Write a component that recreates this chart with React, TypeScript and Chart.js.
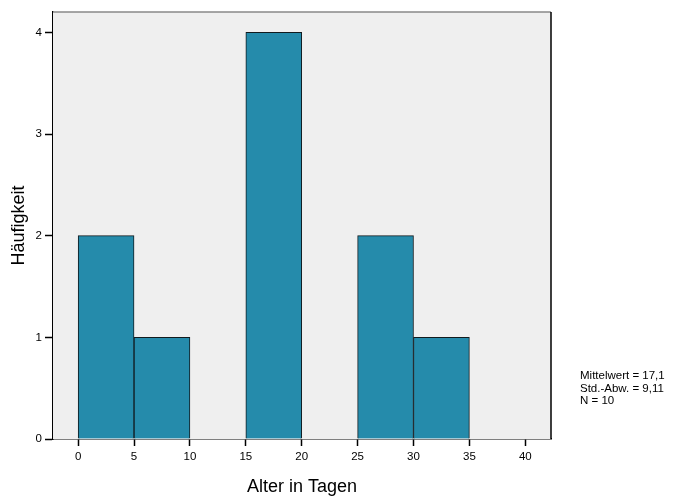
import React, { useEffect, useRef } from "react";
import { Chart, registerables } from "chart.js";

Chart.register(...registerables);

const binStarts = [0, 5, 15, 25, 30];
const binWidth = 5;
const counts = [2, 1, 4, 2, 1];
const xTickValues = [0, 5, 10, 15, 20, 25, 30, 35, 40];
const yTickValues = [0, 1, 2, 3, 4];
const xTitle = "Alter in Tagen";
const yTitle = "Häufigkeit";
const statsLines = ["Mittelwert = 17,1", "Std.-Abw. = 9,11", "N = 10"];

const FONT = "'Liberation Sans', Arial, sans-serif";

const frame = {
  id: "frame",
  beforeDatasetsDraw(chart: any) {
    const { ctx, chartArea: a } = chart;
    ctx.save();
    ctx.fillStyle = "#EFEFEF";
    ctx.fillRect(a.left, a.top, a.right - a.left, a.bottom - a.top);
    ctx.restore();
  },
  afterDraw(chart: any) {
    const { ctx, chartArea: a } = chart;
    ctx.save();
    ctx.lineWidth = 1.5;
    ctx.strokeStyle = "#888888";
    ctx.beginPath();
    ctx.moveTo(a.left, a.top);
    ctx.lineTo(a.right, a.top);
    ctx.stroke();
    ctx.strokeStyle = "#000000";
    ctx.beginPath();
    ctx.moveTo(a.right, a.top);
    ctx.lineTo(a.right, a.bottom);
    ctx.stroke();
    ctx.fillStyle = "#000";
    ctx.font = `11.5px ${FONT}`;
    ctx.textAlign = "left";
    ctx.textBaseline = "alphabetic";
    statsLines.forEach((t, i) => ctx.fillText(t, 580, 379 + i * 12.6));
    ctx.restore();
  },
};

export default function App() {
  const ref = useRef<HTMLCanvasElement | null>(null);
  useEffect(() => {
    if (!ref.current) return;
    const data = binStarts.map((s, i) => ({ x: s + binWidth / 2, y: counts[i] }));
    const chart = new Chart(ref.current, {
      type: "bar",
      data: {
        datasets: [
          {
            data: data as any,
            backgroundColor: "rgb(37,139,171)",
            borderColor: "#111a1e",
            borderWidth: 1,
            barPercentage: 1,
            categoryPercentage: 1,
          },
        ],
      },
      options: {
        animation: false,
        responsive: false,
        maintainAspectRatio: false,
        layout: { padding: { top: 12, right: 132, left: 0, bottom: 0 } },
        plugins: { legend: { display: false }, tooltip: { enabled: false } },
        scales: {
          x: {
            type: "linear",
            offset: false,
            min: -2.25,
            max: 42.3,
            afterBuildTicks: (s: any) => {
              s.ticks = xTickValues.map((v) => ({ value: v }));
            },
            afterFit: (s: any) => {
              s.height = 61;
            },
            grid: {
              offset: false,
              drawOnChartArea: false,
              drawTicks: true,
              tickLength: 7,
              tickColor: "#000",
              tickWidth: 1.5,
            },
            border: { display: true, color: "#000", width: 1.5 },
            ticks: {
              color: "#000",
              font: { family: FONT, size: 11.5 },
              padding: 4,
              maxRotation: 0,
            },
            title: {
              display: true,
              text: xTitle,
              color: "#000",
              font: { family: FONT, size: 18 },
              padding: { top: 0, bottom: 2 },
            },
          },
          y: {
            type: "linear",
            min: 0,
            max: 4.2,
            afterBuildTicks: (s: any) => {
              s.ticks = yTickValues.map((v) => ({ value: v }));
            },
            afterFit: (s: any) => {
              s.width = 53;
            },
            grid: {
              drawOnChartArea: false,
              drawTicks: true,
              tickLength: 8,
              tickColor: "#000",
              tickWidth: 1.5,
            },
            border: { display: true, color: "#000", width: 1.5 },
            ticks: {
              color: "#000",
              font: { family: FONT, size: 11.5 },
              padding: 3,
            },
            title: {
              display: true,
              text: yTitle,
              color: "#000",
              font: { family: FONT, size: 18 },
              padding: { top: 8, bottom: 0 },
            },
          },
        },
      },
      plugins: [frame],
    });
    return () => chart.destroy();
  }, []);
  return (
    <div style={{ position: "absolute", left: 0, top: 0, width: 683, height: 500, background: "#fff" }}>
      <canvas ref={ref} width={683} height={500} style={{ display: "block", width: 683, height: 500 }} />
    </div>
  );
}
